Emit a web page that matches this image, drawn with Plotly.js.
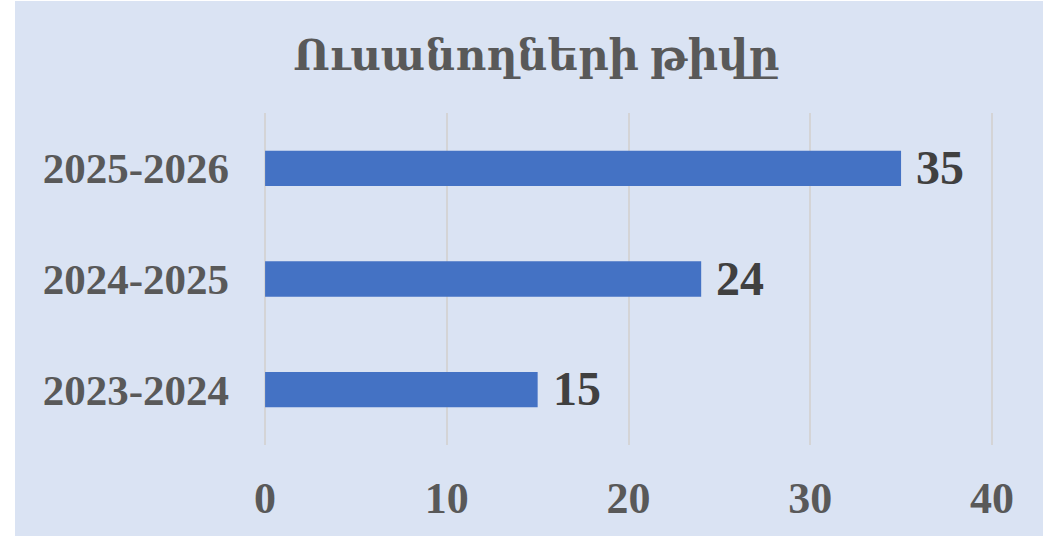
<!DOCTYPE html>
<html>
<head>
<meta charset="utf-8">
<script src="https://cdn.plot.ly/plotly-3.0.1.min.js"></script>
<style>
html, body { margin: 0; padding: 0; background: #ffffff; }
#chart { position: absolute; left: 15px; top: 1px; width: 1028px; height: 535px; }
</style>
</head>
<body>
<div id="chart"></div>
<script>
var categories = ["2023-2024", "2024-2025", "2025-2026"];
var values = [15, 24, 35];
var xTicks = [0, 10, 20, 30, 40];
var chartTitle = "Ուսանողների թիվը";

var serif = "'Liberation Serif', 'Times New Roman', 'DejaVu Serif', serif";

var trace = {
  type: "bar",
  orientation: "h",
  x: values,
  y: categories,
  marker: { color: "#4472c4" },
  hoverinfo: "skip"
};

var annotations = values.map(function (v, i) {
  return {
    x: v, y: categories[i], xref: "x", yref: "y",
    text: "<b>" + v + "</b>",
    showarrow: false, xanchor: "left", yanchor: "middle",
    xshift: 13, yshift: 1,
    font: { family: serif, size: 48, color: "#404040" }
  };
});

var layout = {
  width: 1028, height: 535,
  paper_bgcolor: "#dae3f3",
  plot_bgcolor: "#dae3f3",
  margin: { l: 249, r: 50, t: 112, b: 91 },
  bargap: 0.68,
  showlegend: false,
  title: {
    text: "<b>" + chartTitle + "</b>",
    x: 0.507, xanchor: "center", xref: "container",
    y: 1 - 54 / 535, yanchor: "middle", yref: "container",
    font: { family: serif, size: 42, color: "#595959" }
  },
  xaxis: {
    range: [-0.06, 40.06],
    tickvals: xTicks,
    ticktext: xTicks.map(function (t) { return "<b>" + t + "</b>"; }),
    showgrid: true, gridcolor: "#d4d4d6", gridwidth: 2,
    zeroline: true, zerolinecolor: "#d4d4d6", zerolinewidth: 2,
    showline: false, ticks: "",
    ticklabelstandoff: 23,
    tickfont: { family: serif, size: 44, color: "#595959" },
    fixedrange: true
  },
  yaxis: {
    type: "category",
    categoryarray: categories,
    tickvals: categories,
    ticktext: categories.map(function (c) { return "<b>" + c + "</b>"; }),
    showgrid: false, zeroline: false, showline: false, ticks: "",
    ticklabelstandoff: 34,
    tickfont: { family: serif, size: 43, color: "#595959" },
    fixedrange: true
  },
  annotations: annotations
};

Plotly.newPlot("chart", [trace], layout, { displayModeBar: false, staticPlot: true });
</script>
</body>
</html>
